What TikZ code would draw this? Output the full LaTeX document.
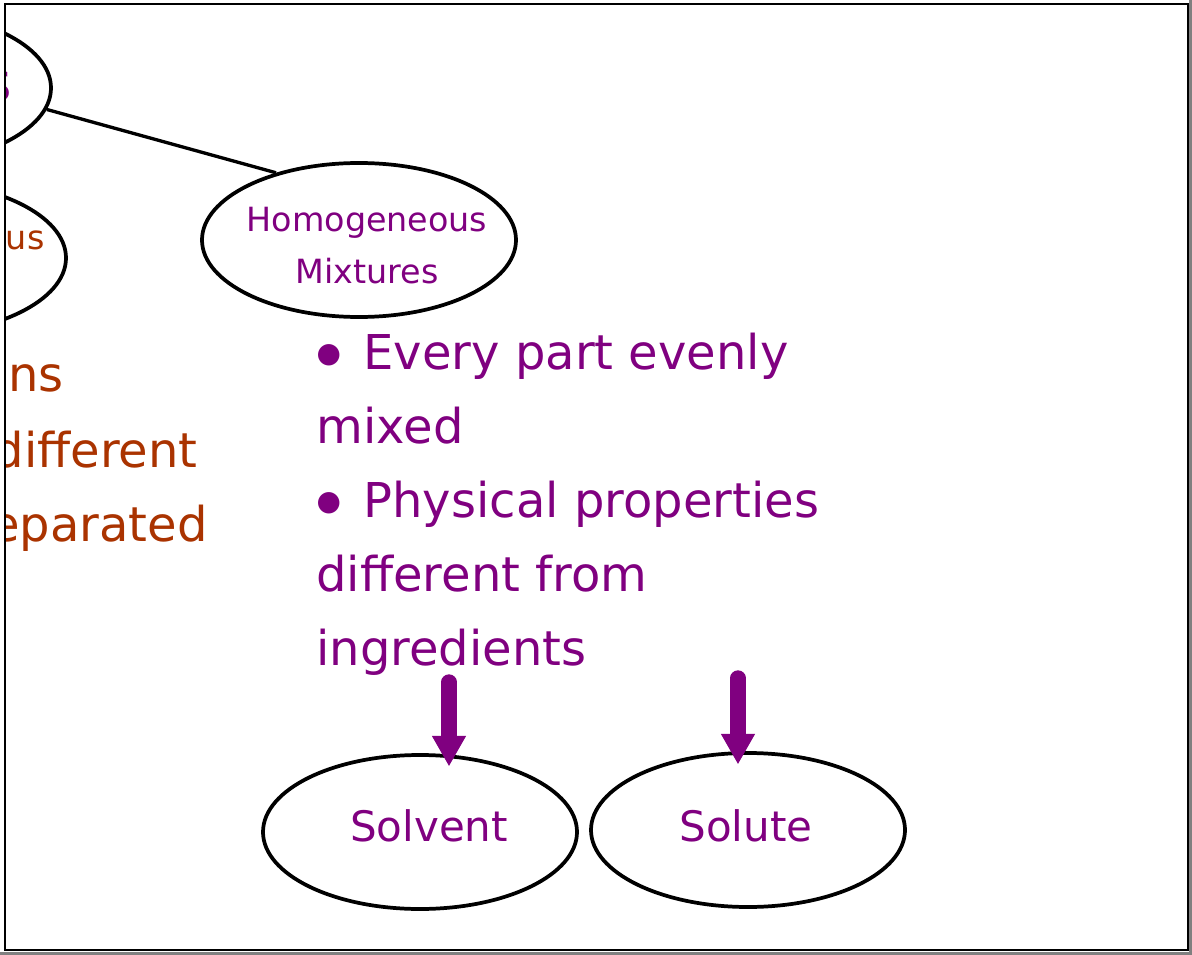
\documentclass[tikz,border=0pt]{standalone}
\usepackage{fontspec}
\setmainfont{DejaVu Sans}
\usetikzlibrary{shapes.geometric,arrows.meta}

\definecolor{mixpurple}{RGB}{128,0,128}
\definecolor{hetbrown}{RGB}{170,51,0}
\definecolor{pagegray}{RGB}{128,128,128}

\newcommand{\blt}{{\fontsize{21}{21}\selectfont\raisebox{5.5pt}{●}}\hspace{17pt}}

\tikzset{every picture/.style={line width=0.75pt}}
\tikzset{
  bubble/.style={ellipse, draw=black, line width=2.8pt, minimum width=235.5pt, minimum height=115.5pt, inner sep=0pt},
  bubbletext/.style={inner sep=0pt, align=center, font=\fontsize{25}{39}\selectfont},
  bigtext/.style={inner sep=0pt, font=\fontsize{36}{55.5}\selectfont},
  fatarrow/.style={draw=mixpurple, line width=11.5pt, line cap=round, shorten >=-10pt, -{Triangle[width=24pt,length=23pt]}},
}

\begin{document}
\begin{tikzpicture}[x=0.75pt,y=0.75pt,yscale=-1,xscale=1]
\useasboundingbox (0,0) rectangle (1192,955);

%Page with its shadow
\fill [pagegray] (0,0) rectangle (1192,955);
\fill [white] (0,0) rectangle (1189,952);

\begin{scope}
\clip (5,4) rectangle (1188,950);

%Shape: Ellipses
\node [bubble] (mix) at (-106,88) {};
\node [bubble] (het) at (-91,258) {};
\node [bubble] (hom) at (359,240) {};
\node [bubble] (solvent) at (420,832) {};
\node [bubble] (solute) at (748,830) {};

%Straight Lines
\draw [line width=2.5pt] (mix.-8) -- (hom.141);

% Text Node
\node [bubbletext, anchor=base, text=mixpurple, font=\fontsize{41}{41}\selectfont] (mixlbl) at (-105,102) {Mixtures};
\node [bubbletext, text=hetbrown] (hetlbl) at (-83,264) {Heterogeneous\\Mixtures};
\node [bubbletext, text=mixpurple] (homlbl) at (367,246) {Homogeneous\\Mixtures};
\node [bubbletext, anchor=base, text=mixpurple, font=\fontsize{31.5}{31.5}\selectfont] (solventlbl) at (429,841) {Solvent};
\node [bubbletext, anchor=base, text=mixpurple, font=\fontsize{31.5}{31.5}\selectfont] (solutelbl) at (746,841) {Solute};

% Text Node
\node [bigtext, anchor=base east, text=hetbrown] (hetA) at (64,392) {sections};
\node [bigtext, anchor=base east, text=hetbrown] (hetB) at (198,467) {different};
\node [bigtext, anchor=base east, text=hetbrown] (hetC) at (208,541) {separated};

% Text Node
\node [bigtext, anchor=north west, align=left, text=mixpurple] (homtext) at (316,333)
  {\blt Every part evenly\\mixed\\\blt Physical properties\\different from\\ingredients};

%Arrows
\coordinate (arrA) at (449,682);
\coordinate (arrB) at (738,678);
\draw [fatarrow] (arrA) -- (arrA |- solvent.north);
\draw [fatarrow] (arrB) -- (arrB |- solute.north);
\end{scope}

%Frame
\draw [line width=1.8pt] (5,4) rectangle (1188,950);
\end{tikzpicture}
\end{document}
